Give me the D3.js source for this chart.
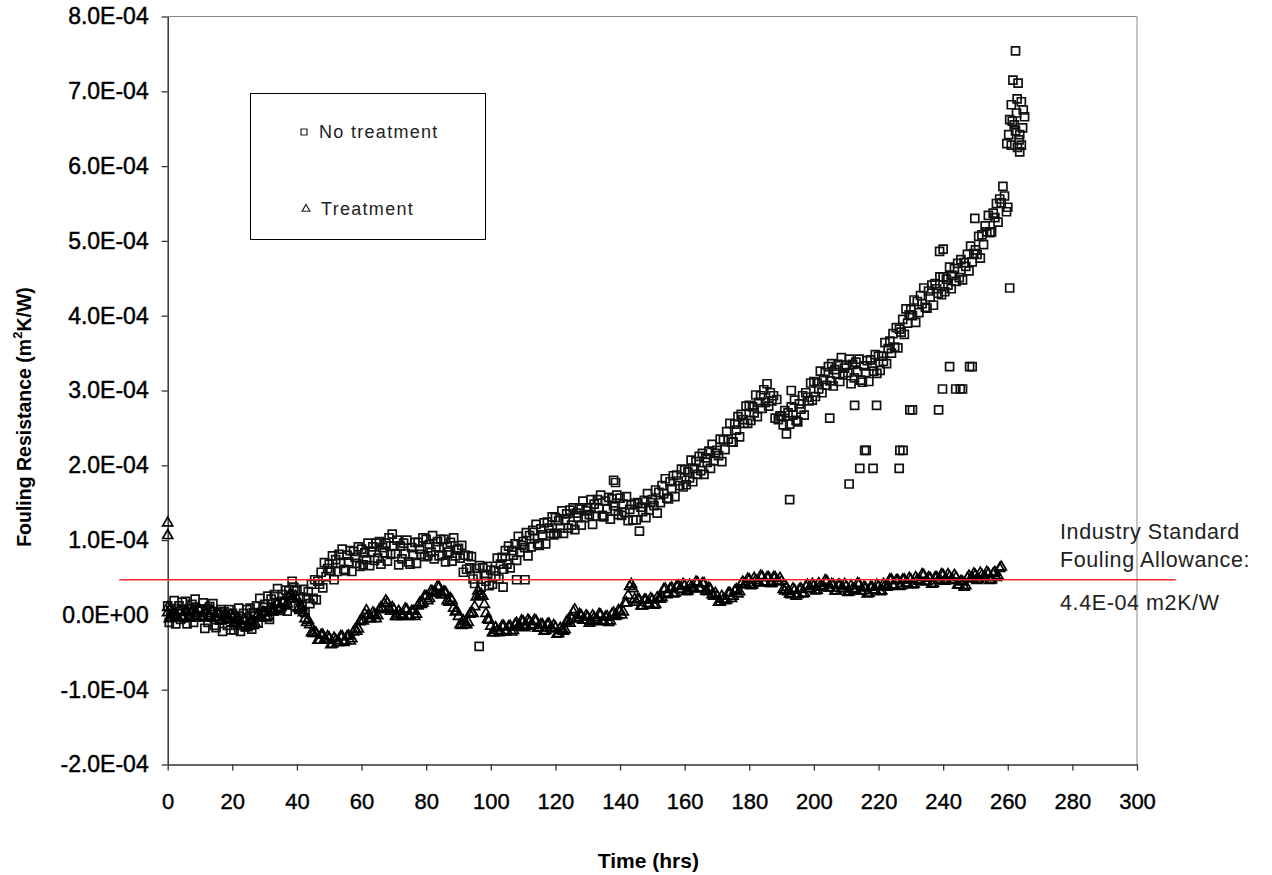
<!DOCTYPE html>
<html>
<head>
<meta charset="utf-8">
<script src="https://cdn.jsdelivr.net/npm/d3@7/dist/d3.min.js"></script>
<style>
  html, body { margin: 0; padding: 0; background: #fff; }
  svg { display: block; font-family: "Liberation Sans", Arial, Helvetica, sans-serif; }
</style>
</head>
<body>
<svg id="chart" width="1272" height="875"></svg>
<script>
// ---------------- DATA (fouling resistance in units of 1E-04 m2K/W) ----------------
const xTicks = [0, 20, 40, 60, 80, 100, 120, 140, 160, 180, 200, 220, 240, 260, 280, 300];
const yTicks = [-2, -1, 0, 1, 2, 3, 4, 5, 6, 7, 8];

// "No treatment" series, sampled every 0.5 h starting at 0 h
const noTreatStepHrs = 0.5;
const noTreatment = [
  0.12,-0.10,0.06,-0.03,0.19,-0.12,0.05,0.12,-0.06,0.17,
  -0.04,0.18,-0.12,0.08,0.01,0.14,-0.10,0.21,-0.03,0.05,
  0.08,-0.03,0.16,-0.18,0.08,-0.10,0.11,-0.03,0.15,-0.14,
  -0.17,0.03,-0.07,0.07,-0.22,0.04,-0.05,-0.14,0.07,-0.20,
  0.02,-0.20,-0.04,-0.14,0.09,-0.22,-0.05,0.02,-0.16,0.07,
  -0.14,0.09,-0.19,0.03,-0.02,0.12,-0.11,0.22,0.00,0.10,
  0.14,0.05,0.25,-0.06,0.21,0.05,0.27,0.15,0.35,0.08,
  0.06,0.27,0.18,0.33,0.05,0.32,0.23,0.45,0.37,0.12,
  0.32,0.09,0.24,0.13,0.34,0.03,0.22,0.31,0.15,0.41,
  0.22,0.47,0.20,0.45,0.41,0.57,0.36,0.70,0.51,0.62,
  0.68,0.59,0.79,0.47,0.74,0.58,0.81,0.69,0.88,0.61,
  0.59,0.80,0.71,0.86,0.58,0.85,0.77,0.69,0.91,0.65,
  0.88,0.67,0.83,0.74,0.96,0.66,0.84,0.91,0.73,0.96,
  0.76,0.98,0.68,0.90,0.83,0.96,0.72,1.03,0.81,1.08,
  0.92,0.82,1.00,0.67,0.92,0.75,0.96,0.82,1.00,0.71,
  0.68,0.90,0.81,0.97,0.69,0.97,0.88,0.81,1.03,0.78,
  1.01,0.79,0.94,0.84,1.06,0.75,0.91,0.98,0.79,1.01,
  0.80,1.01,0.71,0.91,0.84,0.97,0.72,1.03,0.79,0.87,
  0.89,0.76,0.93,0.57,0.80,0.61,0.79,0.63,0.78,0.48,
  0.42,0.62,0.52,0.66,0.37,0.63,0.53,0.45,0.65,0.39,
  0.60,0.41,0.59,0.52,0.76,0.48,0.68,0.77,0.61,0.86,
  0.68,0.92,0.63,0.86,0.80,0.95,0.73,1.05,0.84,0.93,
  0.98,0.90,1.10,0.79,1.06,0.91,1.13,1.02,1.21,0.95,
  0.93,1.15,1.07,1.23,0.95,1.24,1.16,1.09,1.31,1.07,
  1.30,1.09,1.26,1.16,1.39,1.09,1.27,1.35,1.16,1.40,
  1.20,1.43,1.14,1.36,1.30,1.43,1.20,1.52,1.30,1.39,
  1.43,1.34,1.54,1.21,1.48,1.32,1.54,1.42,1.60,1.33,
  1.31,1.52,1.42,1.57,1.28,1.55,1.46,1.39,1.60,1.34,
  1.56,1.33,1.48,1.37,1.58,1.26,1.41,1.47,1.27,1.49,
  1.27,1.50,1.12,1.44,1.38,1.53,1.30,1.62,1.40,1.50,
  1.54,1.46,1.67,1.36,1.64,1.50,1.73,1.62,1.82,1.56,
  1.55,1.78,1.69,1.86,1.58,1.87,1.79,1.73,1.95,1.71,
  1.94,1.74,1.91,1.83,2.07,1.78,1.96,2.05,1.88,2.12,
  1.93,2.16,1.88,2.10,2.04,2.19,1.96,2.28,2.06,2.16,
  2.20,2.13,2.35,2.05,2.34,2.21,2.45,2.35,2.56,2.31,
  2.31,2.55,2.47,2.65,2.38,2.68,2.61,2.56,2.79,2.56,
  2.80,2.60,2.78,2.70,2.94,2.65,2.84,2.93,2.76,3.01,
  2.84,3.09,2.79,2.97,2.86,2.93,2.63,2.88,2.61,2.66,
  2.66,2.54,2.73,2.42,2.70,2.55,2.78,2.67,2.87,2.60,
  2.58,2.82,2.75,2.93,2.67,2.97,2.91,2.86,3.10,2.87,
  3.12,2.92,3.10,3.02,3.26,2.97,3.15,3.24,3.07,3.32,
  3.13,3.36,3.06,3.28,3.22,3.35,3.12,3.44,3.21,3.30,
  3.34,3.24,3.42,3.09,3.35,3.17,3.38,3.25,3.42,3.14,
  3.11,3.33,3.24,3.40,3.12,3.41,3.33,3.26,3.48,3.23,
  3.46,3.27,3.46,3.39,3.64,3.36,3.56,3.66,3.50,3.76,
  3.58,3.84,3.57,3.82,3.78,3.95,3.75,4.09,3.90,4.01,
  4.08,4.00,4.21,3.91,4.19,4.04,4.27,4.16,4.37,4.11,
  4.10,4.33,4.25,4.41,4.14,4.43,4.36,4.30,4.52,4.28,
  4.52,4.32,4.49,4.41,4.65,4.36,4.54,4.63,4.46,4.70,
  4.51,4.75,4.48,4.71,4.66,4.82,4.60,4.93,4.72,4.83,
  4.88,4.82,5.06,4.77,5.08,4.95,5.20,5.12,5.34,5.11,
  5.12,5.37,5.31,5.50,5.25,5.56,5.51
];
// "No treatment" extra readings [hours, value] (end cluster and scattered points)
const noTreatmentExtra = [
  [258.5,5.73],[259.0,5.60],[259.6,5.39],[260.0,5.45],
  [259.7,6.30],[260.3,6.42],[260.6,6.62],[261.1,6.82],[261.1,6.28],[261.4,6.60],
  [261.6,7.15],[262.0,6.55],[262.4,7.54],[262.4,6.47],[262.7,6.71],[262.9,6.90],
  [263.0,6.25],[263.2,7.11],[263.5,6.35],[263.7,6.42],[263.7,6.19],[264.2,6.86],
  [264.2,6.28],[264.6,6.51],[264.8,6.75],[265.2,6.66],
  [96.4,-0.42],[103.8,0.37],[108.0,0.47],[110.6,0.47],[138.0,1.80],[138.6,1.77],
  [192.5,1.54],[193.0,3.00],[204.9,2.63],[210.9,1.75],[212.6,2.80],[214.2,1.96],
  [215.7,2.20],[216.2,2.20],[218.3,1.96],[219.4,2.80],[226.4,1.96],[226.6,2.20],
  [227.6,2.20],[229.7,2.74],[230.5,2.74],[238.6,2.74],[238.9,4.86],[240.0,4.89],
  [239.8,3.02],[242.0,3.32],[243.9,3.02],[245.3,3.02],[246.0,3.02],[248.2,3.32],
  [249.0,3.32],[249.8,5.30],[260.6,4.37]
];

// "Treatment" series, readings on the hour (0 h ... 258 h)
const treatStepHrs = 1;
const treatment = [
  0.03,-0.04,0.01,-0.02,0.05,-0.02,0.04,-0.03,0.07,0.02,
  0.06,-0.02,0.02,-0.02,0.05,-0.03,0.01,-0.07,0.00,-0.05,
  -0.02,-0.11,-0.08,-0.13,-0.08,-0.15,-0.08,-0.11,0.01,-0.03,
  0.03,-0.02,0.06,0.05,0.15,0.10,0.18,0.15,0.28,0.21,
  0.21,0.06,0.03,-0.10,-0.13,-0.25,-0.25,-0.34,-0.27,-0.34,
  -0.31,-0.39,-0.34,-0.37,-0.29,-0.35,-0.28,-0.32,-0.20,-0.19,
  -0.07,0.01,-0.01,-0.05,0.01,-0.01,0.10,0.15,0.16,0.05,
  0.07,-0.02,0.01,-0.01,0.07,-0.01,0.05,0.01,0.16,0.16,
  0.25,0.22,0.31,0.29,0.37,0.27,0.30,0.17,0.19,0.04,
  -0.02,-0.14,-0.13,-0.10,0.03,0.11,0.32,0.28,0.14,-0.06,
  -0.15,-0.24,-0.21,-0.23,-0.15,-0.21,-0.15,-0.21,-0.11,-0.15,
  -0.09,-0.15,-0.09,-0.14,-0.08,-0.17,-0.13,-0.21,-0.12,-0.19,
  -0.17,-0.25,-0.21,-0.20,-0.07,-0.05,0.07,-0.05,-0.01,-0.07,
  -0.03,-0.09,-0.04,-0.07,0.00,-0.08,-0.02,-0.08,0.03,-0.01,
  0.05,0.04,0.16,0.38,0.35,0.17,0.20,0.12,0.20,0.15,
  0.20,0.14,0.21,0.23,0.35,0.29,0.36,0.29,0.39,0.34,
  0.39,0.32,0.37,0.35,0.43,0.36,0.42,0.31,0.34,0.25,
  0.25,0.17,0.21,0.20,0.29,0.25,0.34,0.31,0.44,0.41,
  0.47,0.40,0.46,0.43,0.51,0.44,0.50,0.42,0.50,0.44,
  0.45,0.32,0.31,0.27,0.33,0.27,0.35,0.29,0.40,0.35,
  0.39,0.33,0.39,0.37,0.45,0.36,0.40,0.32,0.40,0.35,
  0.38,0.31,0.35,0.33,0.41,0.32,0.36,0.29,0.37,0.33,
  0.38,0.32,0.39,0.38,0.47,0.40,0.46,0.39,0.47,0.42,
  0.47,0.41,0.47,0.45,0.53,0.45,0.49,0.42,0.50,0.47,
  0.53,0.46,0.51,0.46,0.50,0.40,0.44,0.39,0.52,0.49,
  0.53,0.47,0.53,0.50,0.55,0.47,0.57,0.52,0.64
];
// "Treatment" readings on the half hour (0.5 h ... 257.5 h)
const treatmentHalfStartHrs = 0.5;
const treatmentHalf = [
  -0.05,0.04,-0.02,0.06,-0.04,0.04,-0.04,0.06,0.02,0.08,
  -0.03,0.06,-0.02,0.06,-0.04,0.02,-0.08,0.00,-0.05,0.00,
  -0.11,-0.04,-0.12,-0.06,-0.17,-0.09,-0.14,-0.02,-0.04,0.04,
  -0.04,0.08,0.04,0.15,0.08,0.17,0.12,0.25,0.22,0.25,
  0.09,0.10,-0.05,-0.07,-0.24,-0.23,-0.34,-0.27,-0.33,-0.29,
  -0.40,-0.31,-0.37,-0.29,-0.37,-0.29,-0.35,-0.23,-0.22,-0.09,
  -0.08,0.06,-0.05,0.03,-0.05,0.07,0.08,0.19,0.08,0.10,
  -0.02,0.05,-0.02,0.08,-0.02,0.05,-0.02,0.12,0.14,0.25,
  0.19,0.32,0.29,0.38,0.27,0.31,0.19,0.22,0.09,0.05,
  -0.13,-0.08,-0.13,0.01,0.02,0.24,0.26,0.25,0.02,-0.07,
  -0.24,-0.17,-0.24,-0.15,-0.23,-0.16,-0.23,-0.13,-0.16,-0.08,
  -0.17,-0.07,-0.13,-0.07,-0.18,-0.13,-0.22,-0.13,-0.18,-0.14,
  -0.26,-0.18,-0.22,-0.09,-0.11,0.04,-0.04,0.01,-0.07,-0.01,
  -0.11,-0.01,-0.07,0.01,-0.09,-0.03,-0.10,0.01,-0.02,0.06,
  0.00,0.16,0.26,0.41,0.21,0.21,0.12,0.20,0.15,0.22,
  0.13,0.23,0.21,0.34,0.27,0.35,0.28,0.38,0.34,0.41,
  0.31,0.40,0.35,0.44,0.35,0.42,0.32,0.36,0.27,0.29,
  0.17,0.25,0.19,0.29,0.22,0.32,0.28,0.41,0.40,0.48,
  0.39,0.49,0.43,0.52,0.43,0.50,0.42,0.50,0.45,0.49,
  0.34,0.37,0.28,0.35,0.25,0.34,0.28,0.38,0.35,0.41,
  0.32,0.42,0.37,0.46,0.36,0.41,0.32,0.40,0.35,0.41,
  0.30,0.39,0.33,0.42,0.32,0.37,0.28,0.37,0.33,0.40,
  0.31,0.41,0.37,0.47,0.39,0.46,0.38,0.47,0.42,0.49,
  0.40,0.50,0.45,0.54,0.44,0.50,0.41,0.50,0.46,0.54,
  0.45,0.54,0.47,0.53,0.40,0.45,0.37,0.49,0.48,0.55,
  0.46,0.56,0.50,0.57,0.46,0.55,0.50,0.62
];
const treatmentExtra = [[0,1.23],[0,1.06],[0,0.10]];

// Industry standard allowance reference line
const allowanceValue = 0.47;
const allowanceSpanHrs = [-15, 312];
const allowanceLines = ["Industry Standard", "Fouling Allowance:", "4.4E-04 m2K/W"];

const seriesNames = ["No treatment", "Treatment"];
const xTitle = "Time (hrs)";

// ---------------- CHART ----------------
const svg = d3.select("#chart");
const plot = { left: 167.7, right: 1137, top: 16.5, bottom: 764.5 };

const x = d3.scaleLinear().domain([0, 300]).range([plot.left, plot.right]);
const y = d3.scaleLinear().domain([-2, 8]).range([plot.bottom, plot.top]);

function sciLabel(v) {
  const val = v * 1e-4;
  if (v === 0) return "0.0E+00";
  const e = Math.floor(Math.log10(Math.abs(val)) + 1e-9);
  const m = val / Math.pow(10, e);
  const sign = e < 0 ? "-" : "+";
  return m.toFixed(1) + "E" + sign + String(Math.abs(e)).padStart(2, "0");
}

// frame: top and right borders
svg.append("line").attr("x1", plot.left).attr("x2", plot.right).attr("y1", plot.top).attr("y2", plot.top)
  .attr("stroke", "#8a8a8a").attr("stroke-width", 1);
svg.append("line").attr("x1", plot.right).attr("x2", plot.right).attr("y1", plot.top).attr("y2", plot.bottom)
  .attr("stroke", "#8a8a8a").attr("stroke-width", 1);

// axes
const yAxis = d3.axisLeft(y).tickValues(yTicks).tickSize(6).tickSizeOuter(0).tickPadding(13).tickFormat(sciLabel);
const gy = svg.append("g").attr("transform", `translate(${plot.left},0)`).call(yAxis);
gy.select(".domain").attr("stroke", "#333").attr("stroke-width", 1.5);
gy.selectAll(".tick line").attr("stroke", "#333").attr("stroke-width", 1.3);
gy.selectAll(".tick text").attr("font-size", 23).attr("fill", "#000")
  .attr("stroke", "#000").attr("stroke-width", 0.45)
  .attr("font-family", '"Liberation Sans", Arial, sans-serif');

const xAxis = d3.axisBottom(x).tickValues(xTicks).tickSize(6).tickSizeOuter(0).tickPadding(0).tickFormat(d3.format("d"));
const gx = svg.append("g").attr("transform", `translate(0,${plot.bottom})`).call(xAxis);
gx.select(".domain").attr("stroke", "#333").attr("stroke-width", 1.5);
gx.selectAll(".tick line").attr("stroke", "#333").attr("stroke-width", 1.3);
gx.selectAll(".tick text").attr("font-size", 22).attr("fill", "#000").attr("dy", null).attr("y", 44.5)
  .attr("stroke", "#000").attr("stroke-width", 0.4)
  .attr("font-family", '"Liberation Sans", Arial, sans-serif');

// axis titles
svg.append("text").attr("x", (plot.left + plot.right) / 2 - 4).attr("y", 868)
  .attr("text-anchor", "middle").attr("font-size", 21).attr("font-weight", "bold").attr("fill", "#000")
  .text(xTitle);

const yt = svg.append("text").attr("transform", "translate(31,417) rotate(-90)")
  .attr("text-anchor", "middle").attr("font-size", 19.5).attr("font-weight", "bold").attr("fill", "#000");
yt.append("tspan").text("Fouling Resistance (m");
yt.append("tspan").attr("font-size", 13).attr("dy", -9).text("2");
yt.append("tspan").attr("dy", 9).text("K/W)");

// series points
const sq = d3.symbol().type(d3.symbolSquare).size(64);
const tri = d3.symbol().type(d3.symbolTriangle).size(44);

const noTreatPts = noTreatment.map((v, i) => [i * noTreatStepHrs, v]).concat(noTreatmentExtra);
const treatPts = treatment.map((v, i) => [i * treatStepHrs, v])
  .concat(treatmentHalf.map((v, i) => [treatmentHalfStartHrs + i * treatStepHrs, v]))
  .concat(treatmentExtra);

svg.append("g").selectAll("path").data(noTreatPts).join("path")
  .attr("d", sq)
  .attr("transform", d => `translate(${x(d[0])},${y(d[1])})`)
  .attr("fill", "none").attr("stroke", "#111").attr("stroke-width", 1.7);

svg.append("g").selectAll("path").data(treatPts).join("path")
  .attr("d", tri)
  .attr("transform", d => `translate(${x(d[0])},${y(d[1])})`)
  .attr("fill", "none").attr("stroke", "#000").attr("stroke-width", 1.7);

// allowance line
svg.append("line")
  .attr("x1", x(allowanceSpanHrs[0])).attr("x2", x(allowanceSpanHrs[1]))
  .attr("y1", y(allowanceValue)).attr("y2", y(allowanceValue))
  .attr("stroke", "#ff2a2a").attr("stroke-width", 1.4);

const annY = [539, 567, 610];
svg.append("g").selectAll("text").data(allowanceLines).join("text")
  .attr("x", 1060).attr("y", (d, i) => annY[i])
  .attr("font-size", 21.5).attr("fill", "#222").attr("letter-spacing", 0.6)
  .text(d => d);

// legend
const lg = svg.append("g");
lg.append("rect").attr("x", 250.5).attr("y", 93.5).attr("width", 235).attr("height", 146)
  .attr("fill", "#fff").attr("stroke", "#000").attr("stroke-width", 1);
lg.append("path").attr("d", d3.symbol().type(d3.symbolSquare).size(36)())
  .attr("transform", "translate(304,132)").attr("fill", "none").attr("stroke", "#222").attr("stroke-width", 1.2);
lg.append("path").attr("d", d3.symbol().type(d3.symbolTriangle).size(26)())
  .attr("transform", "translate(306,209)").attr("fill", "none").attr("stroke", "#222").attr("stroke-width", 1.2);
lg.append("text").attr("x", 319).attr("y", 138).attr("font-size", 18).attr("letter-spacing", 1.3)
  .attr("fill", "#222").text(seriesNames[0]);
lg.append("text").attr("x", 321).attr("y", 215).attr("font-size", 18).attr("letter-spacing", 1.3)
  .attr("fill", "#222").text(seriesNames[1]);
</script>
</body>
</html>
